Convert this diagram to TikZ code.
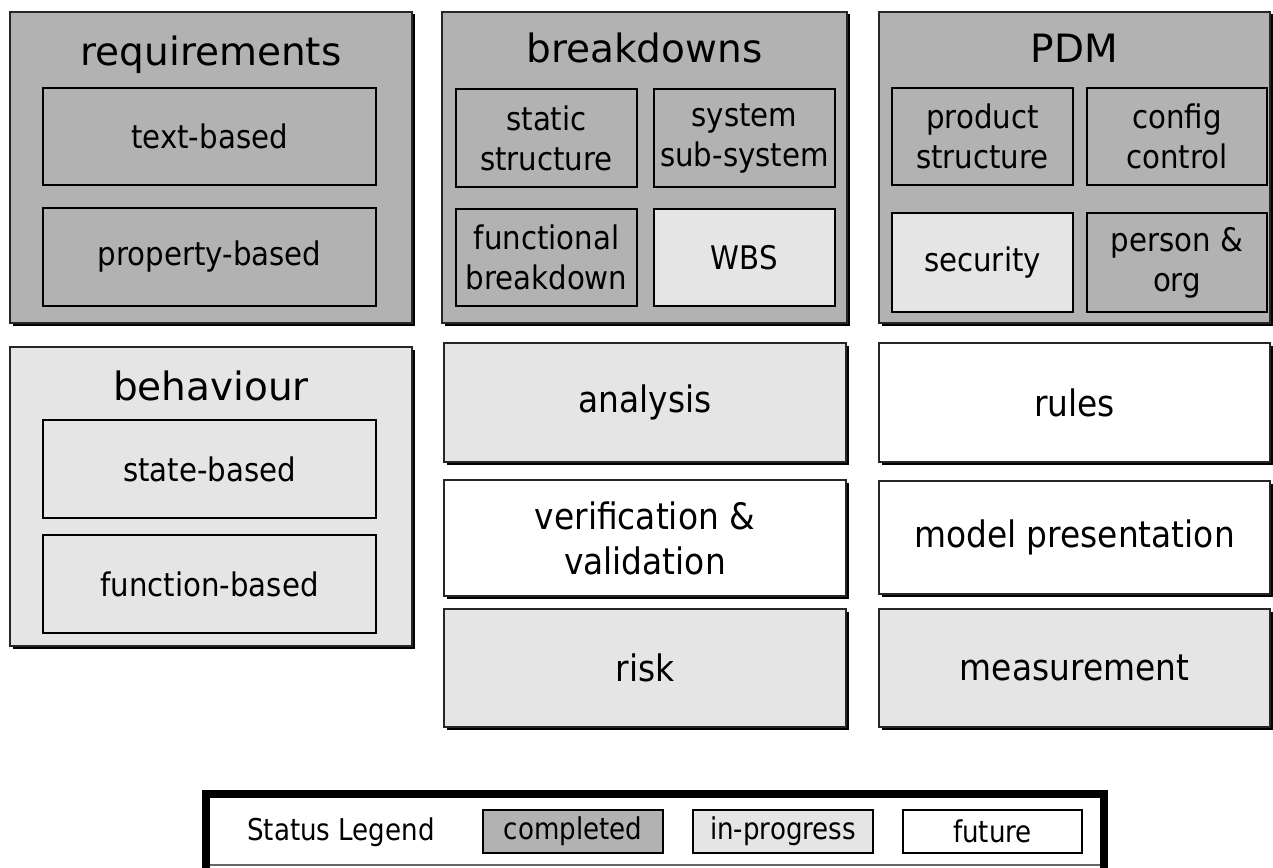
\documentclass[tikz,border=0pt]{standalone}
\usepackage{fontspec}
\setmainfont{DejaVu Sans}
\newfontfamily\boxfont[FakeStretch=0.9]{DejaVu Sans}
\newfontfamily\legendfont[FakeStretch=0.87]{DejaVu Sans}
\usetikzlibrary{shadows}

\definecolor{donegray}{gray}{0.70}
\definecolor{busygray}{gray}{0.90}

\tikzset{
  group/.style={draw=black!85,line width=1.3pt,inner sep=0pt,
    drop shadow={shadow xshift=2.5pt,shadow yshift=-2.5pt,opacity=1,fill=black}},
  part/.style={draw=black,line width=1.2pt,inner sep=0pt,align=center,
    font=\boxfont\fontsize{32.5}{40}\selectfont},
  big/.style={group,align=center,font=\boxfont\fontsize{36.5}{45}\selectfont},
  title/.style={anchor=base,font=\fontsize{39}{45}\selectfont},
  legenditem/.style={part,font=\legendfont\fontsize{30}{36}\selectfont},
  completed/.style={fill=donegray},
  inprogress/.style={fill=busygray},
  future/.style={fill=white},
}

\begin{document}
\begin{tikzpicture}[x=1pt,y=-1pt]

  \useasboundingbox (0,0) rectangle (1273,867);

  % Requirements
  \node[group,completed,minimum width=402pt,minimum height=311pt] (req) at (211,167.5) {};
  \node[title] (reqtitle) at (211,65) {requirements};
  \node[part,completed,minimum width=333pt,minimum height=97pt] (text) at (209.5,136.5) {text-based};
  \node[part,completed,minimum width=333pt,minimum height=98pt] (prop) at (209.5,257) {property-based};

  % Breakdowns
  \node[group,completed,minimum width=405pt,minimum height=311pt] (brk) at (644.5,167.5) {};
  \node[title] (brktitle) at (644.5,63) {breakdowns};
  \node[part,completed,minimum width=181pt,minimum height=98pt] (static) at (546.5,138) {static\\structure};
  \node[part,completed,minimum width=181pt,minimum height=98pt] (system) at (744.5,138) {system\\sub-system};
  \node[part,completed,minimum width=181pt,minimum height=97pt] (func) at (546.5,257.5) {functional\\breakdown};
  \node[part,inprogress,minimum width=181pt,minimum height=97pt] (wbs) at (744.5,257.5) {WBS};

  % PDM
  \node[group,completed,minimum width=391pt,minimum height=311pt] (pdm) at (1074.5,167.5) {};
  \node[title] (pdmtitle) at (1074.5,63) {PDM};
  \node[part,completed,minimum width=181pt,minimum height=97pt] (product) at (982.5,136.5) {product\\structure};
  \node[part,completed,minimum width=180pt,minimum height=97pt] (config) at (1177,136.5) {config\\control};
  \node[part,inprogress,minimum width=181pt,minimum height=99pt] (security) at (982.5,262.5) {security};
  \node[part,completed,minimum width=180pt,minimum height=99pt] (person) at (1177,262.5) {person \&\\org};

  % Behaviour
  \node[group,inprogress,minimum width=402pt,minimum height=299pt] (beh) at (211,496.5) {};
  \node[title] (behtitle) at (211,400) {behaviour};
  \node[part,inprogress,minimum width=333pt,minimum height=98pt] (state) at (209.5,469) {state-based};
  \node[part,inprogress,minimum width=333pt,minimum height=98pt] (function) at (209.5,584) {function-based};

  % Middle and right columns
  \node[big,inprogress,minimum width=402pt,minimum height=119pt] (analysis) at (645,402.5) {analysis};
  \node[big,future,minimum width=402pt,minimum height=116pt] (verif) at (645,538) {verification \&\\validation};
  \node[big,inprogress,minimum width=402pt,minimum height=118pt] (risk) at (645,668) {risk};
  \node[big,future,minimum width=391pt,minimum height=119pt] (rules) at (1074.5,402.5) {rules};
  \node[big,future,minimum width=391pt,minimum height=113pt] (model) at (1074.5,537.5) {model presentation};
  \node[big,inprogress,minimum width=391pt,minimum height=118pt] (meas) at (1074.5,668) {measurement};

  % Legend
  \draw[line width=8pt] (206,870) -- (206,793.5) -- (1104,793.5) -- (1104,870);
  \draw[black!60,line width=1.2pt] (210,865) -- (1100,865);
  \node[font=\legendfont\fontsize{30}{36}\selectfont] (status) at (341,832) {Status Legend};
  \node[legenditem,completed,minimum width=180pt,minimum height=43pt] (done) at (573,831.5) {completed};
  \node[legenditem,inprogress,minimum width=180pt,minimum height=43pt] (busy) at (783,831.5) {in-progress};
  \node[legenditem,future,minimum width=179pt,minimum height=43pt] (todo) at (992.5,831.5) {future};

\end{tikzpicture}
\end{document}
